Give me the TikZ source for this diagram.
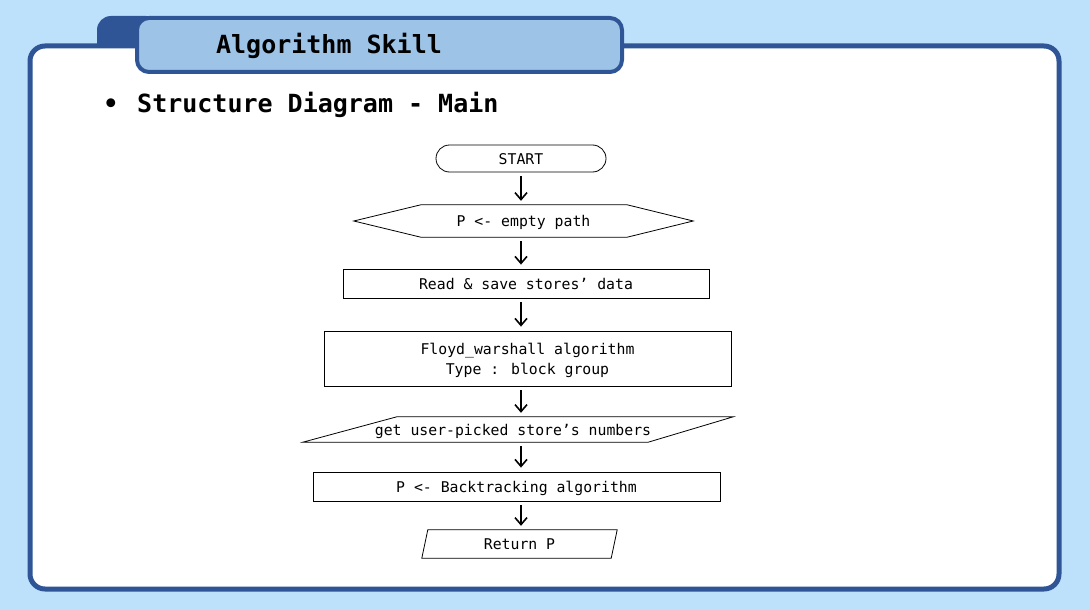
\documentclass[tikz,border=0pt]{standalone}
\usepackage{fontspec}
\newfontfamily\monofont{DejaVu Sans Mono}
\usetikzlibrary{positioning,arrows.meta,calc,shapes.misc}
\definecolor{skybg}{HTML}{BDE1FB}
\definecolor{framebl}{HTML}{2F5597}
\definecolor{tabbl}{HTML}{9DC3E6}

\begin{document}
\begin{tikzpicture}[x=1pt,y=-1pt,>={Straight Barb[length=7pt,width=12pt]},
  txt/.style={font=\monofont\fontsize{14.8}{20}\selectfont,inner sep=0pt},
  oneline/.style={txt,text height=11pt,text depth=0pt},
  box/.style={draw,line width=0.8pt},
  outline/.style={line width=0.8pt},
  flow/.style={->,line width=1.6pt,shorten <=4pt,shorten >=4pt},
  heading/.style={font=\monofont\bfseries\fontsize{25}{30}\selectfont,inner sep=0pt}]
  % slide background and frame
  \fill[skybg] (0,0) rectangle (1090,610);
  \useasboundingbox (0,0) rectangle (1090,610);
  \draw[framebl,fill=white,line width=5pt,rounded corners=15pt] (30,46) rectangle (1059,589);
  % title tab
  \fill[framebl] (97,48) {[rounded corners=14pt] -- (97,16) -- (160,16)} -- (160,48) -- cycle;
  \draw[framebl,fill=tabbl,line width=4pt,rounded corners=12pt] (137,18) rectangle (622,72);
  \node[heading,anchor=base] (title) at (329,54) {Algorithm Skill};
  \node[heading,anchor=base] (bullet) at (111,113) {•};
  \node[heading,anchor=base west] (subtitle) at (137,113) {Structure Diagram - Main};
  % flowchart
  \coordinate (axis) at (521,0);
  \node[oneline,box,rounded rectangle,minimum width=170pt,minimum height=27pt] (start) at (521,158.5) {START};
  \node[oneline,minimum width=339pt,minimum height=32pt] (empty) at (523.5,221) {P <- empty path};
  \draw[outline] (empty.west) -- ($(empty.north west)+(67,0)$) -- ($(empty.north east)+(-66,0)$)
    -- (empty.east) -- ($(empty.south east)+(-66,0)$) -- ($(empty.south west)+(67,0)$) -- cycle;
  \node[oneline,box,minimum width=366pt,minimum height=29pt] (read) at (526,283.5) {Read \& save stores’ data};
  \node[txt,box,align=center,text depth=0pt,minimum width=407pt,minimum height=55pt] (floyd) at (527.5,358.5)
    {Floyd\_warshall algorithm\\[0pt]Type : block group};
  \node[oneline,minimum width=340pt,minimum height=25pt] (pick) at (513,429.5) {get user-picked store’s numbers};
  \draw[outline] ($(pick.south west)+(-40,0)$) -- ($(pick.north west)+(54,0)$)
    -- ($(pick.north east)+(50,0)$) -- ($(pick.south east)+(-35,0)$) -- cycle;
  \node[oneline,box,minimum width=407pt,minimum height=29pt] (back) at (516.5,486.5) {P <- Backtracking algorithm};
  \node[oneline,minimum width=189pt,minimum height=28pt] (ret) at (519.5,544) {Return P};
  \draw[outline] ($(ret.south west)+(-3,0)$) -- ($(ret.north west)+(3,0)$)
    -- ($(ret.north east)+(3,0)$) -- ($(ret.south east)+(-3,0)$) -- cycle;
  \foreach \a/\b in {start/empty,empty/read,read/floyd,floyd/pick,pick/back,back/ret}
    \draw[flow] (\a.south -| axis) -- (\b.north -| axis);
\end{tikzpicture}
\end{document}
